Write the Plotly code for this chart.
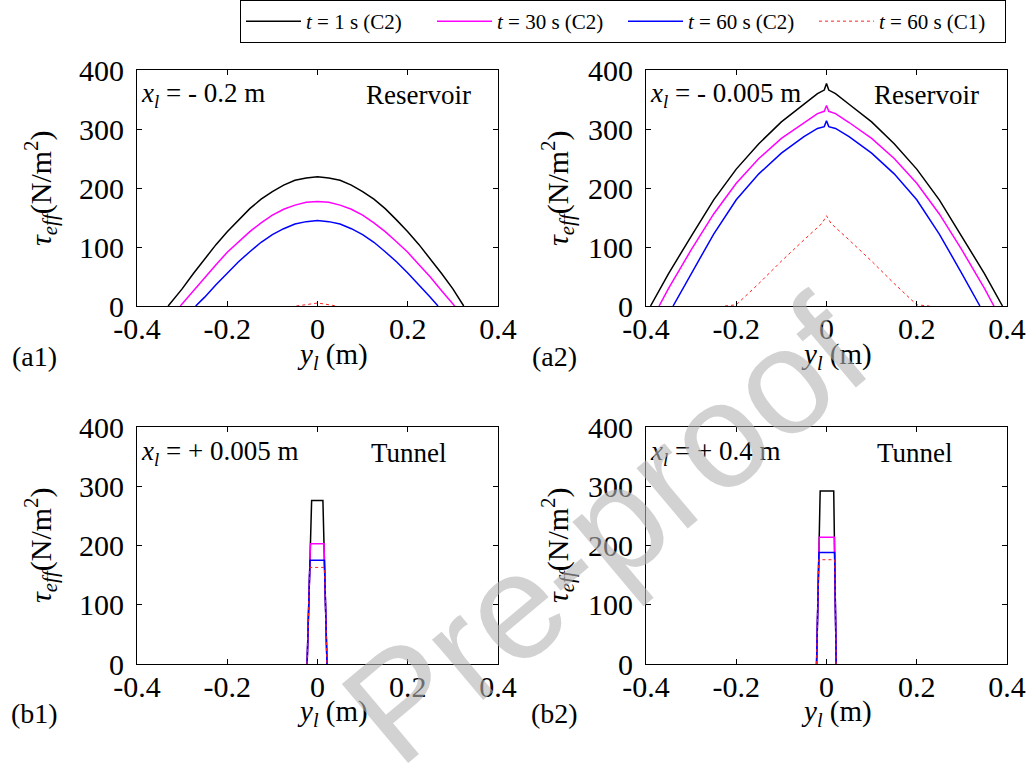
import plotly.graph_objects as go

# ---------------- data ----------------
x_tickvals = [-0.4, -0.2, 0, 0.2, 0.4]
x_ticktext = ["-0.4", "-0.2", "0", "0.2", "0.4"]
y_tickvals = [0, 100, 200, 300, 400]
y_ticktext = ["0", "100", "200", "300", "400"]

series_names = ["<i>t</i> = 1 s (C2)", "<i>t</i> = 30 s (C2)",
                "<i>t</i> = 60 s (C2)", "<i>t</i> = 60 s (C1)"]

# panel (a1): x_l = -0.2 m (reservoir)
a1_y_t1 = [-0.331, -0.3, -0.275, -0.25, -0.225, -0.2, -0.175, -0.15, -0.125, -0.1, -0.075, -0.05, -0.025, 0,
           0.025, 0.05, 0.075, 0.1, 0.125, 0.15, 0.175, 0.2, 0.225, 0.25, 0.275, 0.3, 0.324]
a1_v_t1 = [0, 29, 55, 80, 104, 126, 146, 165, 181, 194, 205, 213, 217, 219,
           217, 213, 205, 194, 181, 165, 146, 126, 104, 80, 55, 29, 0]
a1_y_t30 = [-0.304, -0.275, -0.25, -0.225, -0.2, -0.175, -0.15, -0.125, -0.1, -0.075, -0.05, -0.025, 0,
            0.025, 0.05, 0.075, 0.1, 0.125, 0.15, 0.175, 0.2, 0.225, 0.25, 0.275, 0.304]
a1_v_t30 = [0, 26, 49, 70, 91, 109, 126, 141, 154, 164, 171, 176, 177,
            176, 171, 164, 154, 141, 126, 109, 91, 70, 49, 26, 0]
a1_y_t60 = [-0.27, -0.25, -0.225, -0.2, -0.175, -0.15, -0.125, -0.1, -0.075, -0.05, -0.025, 0,
            0.025, 0.05, 0.075, 0.1, 0.125, 0.15, 0.175, 0.2, 0.225, 0.25, 0.267]
a1_v_t60 = [0, 15, 36, 56, 75, 92, 108, 121, 131, 139, 143, 145,
            143, 139, 131, 121, 108, 92, 75, 56, 36, 15, 0]
a1_y_c1 = [-0.047, -0.03, -0.01, 0, 0.01, 0.03, 0.042]
a1_v_c1 = [0, 2, 4, 5, 4, 2, 0]

# panel (a2): x_l = -0.005 m (reservoir)
a2_y_t1 = [-0.39, -0.35, -0.3, -0.25, -0.2, -0.15, -0.1, -0.05, -0.02, -0.005, 0,
           0.005, 0.02, 0.05, 0.1, 0.15, 0.2, 0.25, 0.3, 0.35, 0.39]
a2_v_t1 = [0, 55, 118, 180, 232, 275, 312, 342, 360, 366, 377,
           366, 360, 342, 312, 275, 232, 180, 118, 55, 0]
a2_y_t30 = [-0.371, -0.35, -0.3, -0.25, -0.2, -0.15, -0.1, -0.05, -0.02, -0.005, 0,
            0.005, 0.02, 0.05, 0.1, 0.15, 0.2, 0.25, 0.3, 0.35, 0.371]
a2_v_t30 = [0, 30, 95, 156, 208, 250, 284, 311, 326, 330, 340,
            330, 326, 311, 284, 250, 208, 156, 95, 30, 0]
a2_y_t60 = [-0.34, -0.3, -0.25, -0.2, -0.15, -0.1, -0.05, -0.02, -0.005, 0,
            0.005, 0.02, 0.05, 0.1, 0.15, 0.2, 0.25, 0.3, 0.34]
a2_v_t60 = [0, 55, 122, 180, 224, 259, 287, 301, 304, 314,
            304, 301, 287, 259, 224, 180, 122, 55, 0]
a2_y_c1 = [-0.225, -0.2, -0.15, -0.1, -0.05, -0.01, 0, 0.01, 0.05, 0.1, 0.15, 0.2, 0.228]
a2_v_c1 = [0, 2, 38, 76, 112, 140, 153, 140, 112, 76, 38, 2, 0]

# panel (b1): x_l = +0.005 m (tunnel)
b1_y_t1 = [-0.023, -0.013, 0.012, 0.021]
b1_v_t1 = [0, 276, 276, 0]
b1_y_t30 = [-0.023, -0.0156, 0.0144, 0.021]
b1_v_t30 = [0, 203, 203, 0]
b1_y_t60 = [-0.023, -0.0167, 0.0153, 0.021]
b1_v_t60 = [0, 175, 175, 0]
b1_y_c1 = [-0.023, -0.0171, 0.0157, 0.021]
b1_v_c1 = [0, 163, 163, 0]

# panel (b2): x_l = +0.4 m (tunnel)
b2_y_t1 = [-0.022, -0.014, 0.016, 0.0215]
b2_v_t1 = [0, 292, 292, 0]
b2_y_t30 = [-0.022, -0.0161, 0.0175, 0.0215]
b2_v_t30 = [0, 214, 214, 0]
b2_y_t60 = [-0.022, -0.0168, 0.0180, 0.0215]
b2_v_t60 = [0, 188, 188, 0]
b2_y_c1 = [-0.022, -0.0172, 0.0182, 0.0215]
b2_v_c1 = [0, 176, 176, 0]

# ---------------- styling ----------------
colors = ["#000000", "#ff00ff", "#0000ff", "#ff2020"]
widths = [1.5, 1.5, 1.5, 1.0]
dashes = ["solid", "solid", "solid", "dot"]
FONT = "Liberation Serif"

fig = go.Figure()

panels = [
    ("x", "y", [(a1_y_t1, a1_v_t1), (a1_y_t30, a1_v_t30), (a1_y_t60, a1_v_t60), (a1_y_c1, a1_v_c1)]),
    ("x2", "y2", [(a2_y_t1, a2_v_t1), (a2_y_t30, a2_v_t30), (a2_y_t60, a2_v_t60), (a2_y_c1, a2_v_c1)]),
    ("x3", "y3", [(b1_y_t1, b1_v_t1), (b1_y_t30, b1_v_t30), (b1_y_t60, b1_v_t60), (b1_y_c1, b1_v_c1)]),
    ("x4", "y4", [(b2_y_t1, b2_v_t1), (b2_y_t30, b2_v_t30), (b2_y_t60, b2_v_t60), (b2_y_c1, b2_v_c1)]),
]

for pi, (xa, ya, series) in enumerate(panels):
    for si in range(4):
        xs, vs = series[si]
        fig.add_trace(go.Scatter(
            x=xs, y=vs, mode="lines", xaxis=xa, yaxis=ya,
            line=dict(color=colors[si], width=widths[si], dash=dashes[si]),
            name=series_names[si], showlegend=(pi == 0),
        ))

W, H = 1033, 769
def px2x(p): return p / W
def px2y(p): return 1 - p / H

dom_x_left = [px2x(137), px2x(498)]
dom_x_right = [px2x(646), px2x(1007)]
dom_y_top = [px2y(306), px2y(70)]
dom_y_bot = [px2y(664), px2y(427)]

axis_common = dict(
    showline=True, linecolor="black", linewidth=1, mirror="allticks",
    ticks="inside", ticklen=5, tickcolor="black", tickwidth=1,
    showgrid=False, zeroline=False, automargin=False,
    tickfont=dict(family=FONT, size=30, color="black"),
)
xa_common = dict(axis_common, range=[-0.4, 0.4], tickvals=x_tickvals, ticktext=x_ticktext,
                 ticklabelstandoff=-4)
ya_common = dict(axis_common, range=[0, 400], tickvals=y_tickvals, ticktext=y_ticktext,
                 ticklabelstandoff=6)

fig.update_layout(
    width=W, height=H,
    margin=dict(l=0, r=0, t=0, b=0, autoexpand=False),
    paper_bgcolor="white", plot_bgcolor="white",
    font=dict(family=FONT, color="black"),
    xaxis=dict(xa_common, domain=dom_x_left, anchor="y"),
    yaxis=dict(ya_common, domain=dom_y_top, anchor="x"),
    xaxis2=dict(xa_common, domain=dom_x_right, anchor="y2"),
    yaxis2=dict(ya_common, domain=dom_y_top, anchor="x2"),
    xaxis3=dict(xa_common, domain=dom_x_left, anchor="y3"),
    yaxis3=dict(ya_common, domain=dom_y_bot, anchor="x3"),
    xaxis4=dict(xa_common, domain=dom_x_right, anchor="y4"),
    yaxis4=dict(ya_common, domain=dom_y_bot, anchor="x4"),
    showlegend=True,
    legend=dict(
        orientation="h", x=px2x(240), y=1.0, xanchor="left", yanchor="top",
        bordercolor="black", borderwidth=1, bgcolor="white",
        font=dict(family=FONT, size=21, color="black"),
        entrywidth=121, entrywidthmode="pixels",
        tracegroupgap=0, itemwidth=55,
    ),
)

ann = []
def add_text(text, cx, cy, size, xanchor="center", yanchor="middle", angle=0, **kw):
    ann.append(dict(x=px2x(cx), y=px2y(cy), xref="paper", yref="paper", text=text,
                    xanchor=xanchor, yanchor=yanchor, showarrow=False, textangle=angle,
                    font=dict(family=kw.get("family", FONT), size=size,
                              color=kw.get("color", "black"))))

ytitle = "<i>τ</i><sub><i>eff</i></sub>(N/m<sup>2</sup>)"
xtitle = "<i>y</i><sub><i>l</i></sub> (m)"
for (cx, cy) in [(40, 188), (557, 188), (40, 545), (557, 545)]:
    add_text(ytitle, cx, cy, 30, angle=-90)
for (cx, cy) in [(332, 356), (836, 356), (332, 713), (836, 713)]:
    add_text(xtitle, cx, cy, 29)
for (lab, cx, cy) in [("(a1)", 34, 356), ("(a2)", 554, 356), ("(b1)", 34, 713), ("(b2)", 554, 713)]:
    add_text(lab, cx, cy, 28)

panel_texts = [
    ("<i>x</i><sub><i>l</i></sub> = - 0.2 m", "Reservoir", 139, 95, 473, "right"),
    ("<i>x</i><sub><i>l</i></sub> = - 0.005 m", "Reservoir", 648, 95, 981, "right"),
    ("<i>x</i><sub><i>l</i></sub> = + 0.005 m", "Tunnel", 139, 453, 409, "center"),
    ("<i>x</i><sub><i>l</i></sub> = + 0.4 m", "Tunnel", 648, 453, 915, "center"),
]
for (t1, t2, lx, cy, cx2, anc2) in panel_texts:
    add_text(t1, lx, cy, 27, xanchor="left")
    add_text(t2, cx2, cy, 27, xanchor=anc2)

# watermark
add_text("Pre-proof", 605, 530, 150, angle=-40,
         family="Liberation Sans, Arial, sans-serif", color="rgba(180,180,180,0.6)")

fig.update_layout(annotations=ann)

fig.write_html("out.html")
